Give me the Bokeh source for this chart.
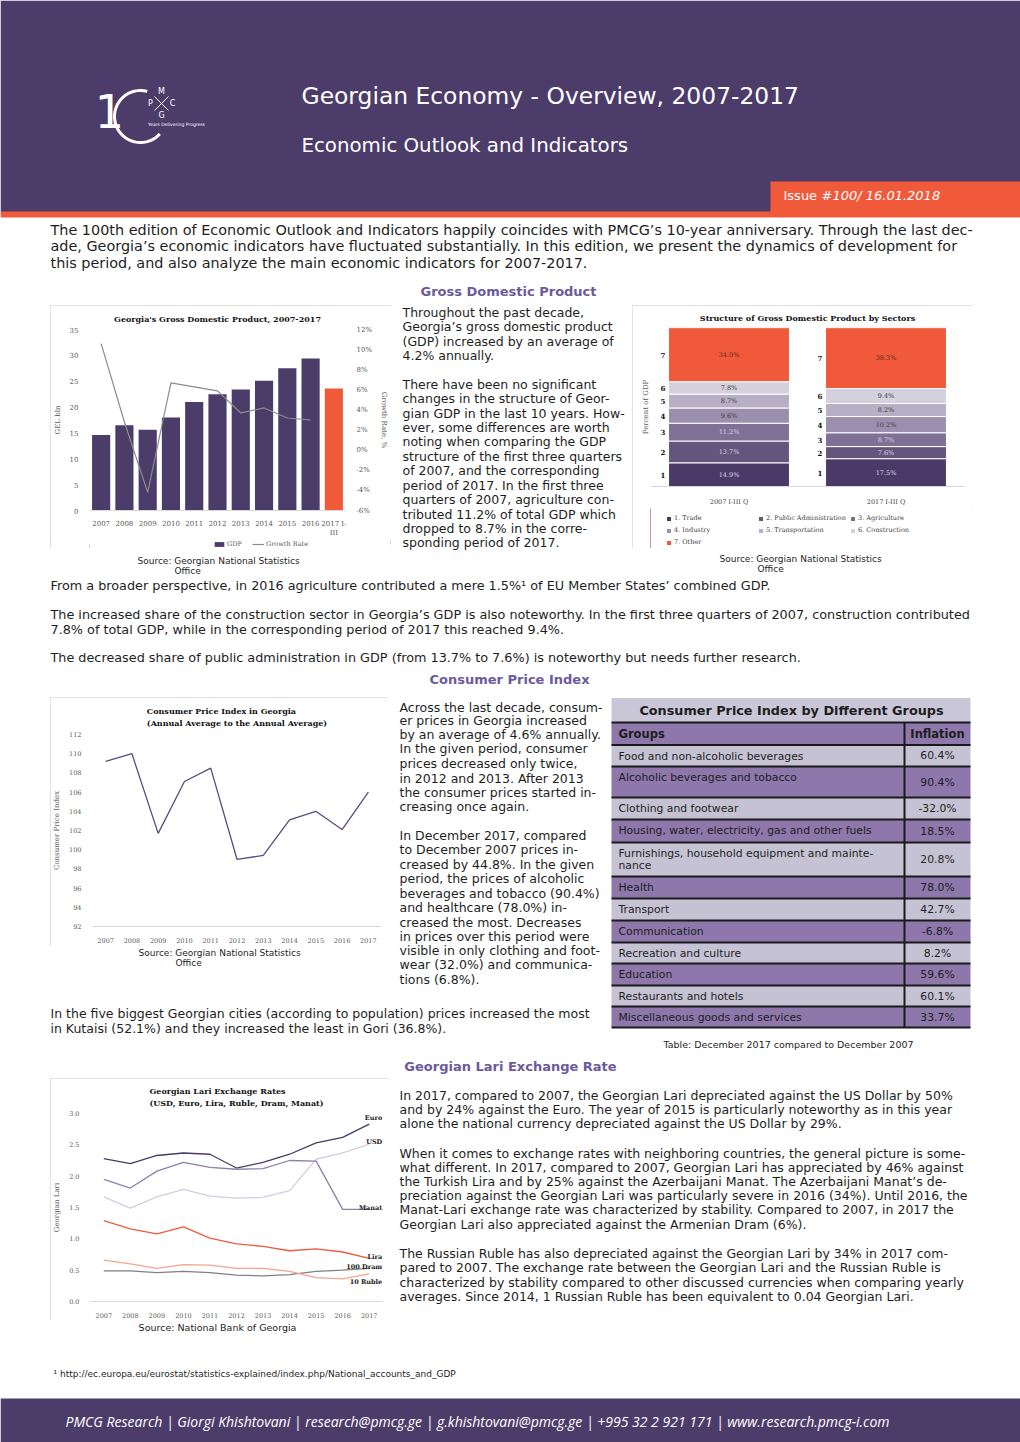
import numpy as np
from bokeh.plotting import figure
from bokeh.layouts import row, column
from bokeh.models import (Range1d, FactorRange, LinearAxis, FixedTicker, PrintfTickFormatter,
                          Legend, LegendItem, Title, ColumnDataSource)
from bokeh.core.properties import value
from bokeh.embed import file_html
from bokeh.resources import INLINE

# ---------------- data ----------------
gdp_periods = ["2007", "2008", "2009", "2010", "2011", "2012", "2013", "2014", "2015", "2016", "2017 I-\nIII"]
gdp_bln = [14.6, 16.5, 15.6, 18.0, 21.0, 22.5, 23.4, 25.1, 27.5, 29.4, 23.6]
gdp_growth_pct = [10.6, 2.8, -4.2, 6.7, 6.3, 5.9, 3.7, 4.2, 3.2, 3.0]
gdp_legend = ["GDP", "Growth Rate"]

struct_periods = ["2007 I-III Q", "2017 I-III Q"]
sectors = ["1. Trade", "2. Public Administration", "3. Agriculture", "4. Industry",
           "5. Transportation", "6. Construction", "7. Other"]
share_2007 = [14.9, 13.7, 11.2, 9.6, 8.7, 7.8, 34.0]
share_2017 = [17.5, 7.6, 8.7, 10.2, 8.2, 9.4, 38.3]

cpi_years = ["2007", "2008", "2009", "2010", "2011", "2012", "2013", "2014", "2015", "2016", "2017"]
cpi_index = [109.2, 110.0, 101.7, 107.1, 108.5, 99.0, 99.4, 103.1, 104.0, 102.1, 106.0]

cpi_groups = ["Food and non-alcoholic beverages", "Alcoholic beverages and tobacco",
              "Clothing and footwear", "Housing, water, electricity, gas and other fuels",
              "Furnishings, household equipment and mainte-\nnance", "Health", "Transport",
              "Communication", "Recreation and culture", "Education", "Restaurants and hotels",
              "Miscellaneous goods and services"]
cpi_inflation = ["60.4%", "90.4%", "-32.0%", "18.5%", "20.8%", "78.0%", "42.7%", "-6.8%",
                 "8.2%", "59.6%", "60.1%", "33.7%"]

fx_years = ["2007", "2008", "2009", "2010", "2011", "2012", "2013", "2014", "2015", "2016", "2017"]
fx_euro = [2.28, 2.20, 2.33, 2.37, 2.35, 2.13, 2.22, 2.35, 2.53, 2.62, 2.83]
fx_usd = [1.67, 1.49, 1.67, 1.79, 1.68, 1.65, 1.66, 1.77, 2.27, 2.37, 2.51]
fx_manat = [1.95, 1.81, 2.08, 2.22, 2.14, 2.11, 2.12, 2.25, 2.24, 1.47, 1.47]
fx_lira = [1.29, 1.16, 1.08, 1.19, 1.01, 0.92, 0.88, 0.81, 0.84, 0.79, 0.69]
fx_dram100 = [0.49, 0.49, 0.46, 0.48, 0.46, 0.42, 0.41, 0.43, 0.48, 0.50, 0.53]
fx_ruble10 = [0.66, 0.60, 0.53, 0.59, 0.58, 0.53, 0.53, 0.48, 0.38, 0.36, 0.44]

# ---------------- styles ----------------
PURPLE = "#4C3C69"
ORANGE = "#F05A3B"
HEAD = "#6C5A9C"
TXT = "#1E1E1E"
SANS = "DejaVu Sans"
SERIF = "DejaVu Serif"
BOX = "#D9D9D9"
OUTLINE = {"outline": "1px solid " + BOX, "outline-offset": "-1px"}

# ---------------- page content (recorded, then dispatched to canvases) ----------------
text_ops, quad_ops, line_ops = [], [], []


def txt(xs, ys, texts, size="12.5px", color=TXT, font=SANS, align="left", style="normal"):
    key = (size, color, font, align, style)
    for x, y, t in zip(xs, ys, texts):
        text_ops.append((x, y, t, key))


def block(x, y_list, lines, **kw):
    pairs = [(y, t) for y, t in zip(y_list, lines) if t]
    txt([x] * len(pairs), [p[0] for p in pairs], [p[1] for p in pairs], **kw)


def quad(l, r, t, b, **style):
    quad_ops.append((l, r, t, b, style))


def pline(xs, ys, **style):
    line_ops.append((xs, ys, style))


# header
quad(0, 1020, 0, 212, fill_color=PURPLE, line_color=None)
quad(0, 1020, 211, 217, fill_color=ORANGE, line_color=None)
quad(770, 1020, 181, 212, fill_color=ORANGE, line_color=None)
txt([783], [195], ["Issue"], size="13px", color="white")
txt([821], [195], ["#100/ 16.01.2018"], size="13px", color="white", style="italic")
txt([301], [95], ["Georgian Economy - Overview, 2007-2017"], size="23.4px", color="white")
txt([301], [145], ["Economic Outlook and Indicators"], size="19.8px", color="white")

# logo (decorative)
txt([109], [110], ["1"], size="46px", color="white", align="center")
th = np.radians(np.linspace(75, 318, 60))
pline(list(140 + 26 * np.cos(th)), list(116 - 26 * np.sin(th)), line_color="white", line_width=3)
pline([154, 168], [96, 110], line_color="white", line_width=1)
pline([168, 154], [96, 110], line_color="white", line_width=1)
txt([161, 150, 172, 161], [91, 103, 103, 115], ["M", "P", "C", "G"], size="8px", color="white", align="center")
txt([176], [124], ["Years Delivering Progress"], size="4.5px", color="white", align="center")

# intro
block(50, [229, 245, 262], [
    "The 100th edition of Economic Outlook and Indicators happily coincides with PMCG\u2019s 10-year anniversary. Through the last dec-",
    "ade, Georgia\u2019s economic indicators have fluctuated substantially. In this edition, we present the dynamics of development for",
    "this period, and also analyze the main economic indicators for 2007-2017."], size="14.4px")

# section headings
txt([508, 509, 510], [291, 679, 1066],
    ["Gross Domestic Product", "Consumer Price Index", "Georgian Lari Exchange Rate"],
    size="13px", color=HEAD, align="center", style="bold")

# GDP text
block(402, [312, 326, 341, 355, 0, 384, 398, 413, 427, 441, 456, 470, 485, 499, 514, 528, 542], [
    "Throughout the past decade,",
    "Georgia\u2019s gross domestic product",
    "(GDP) increased by an average of",
    "4.2% annually.",
    "",
    "There have been no significant",
    "changes in the structure of Geor-",
    "gian GDP in the last 10 years. How-",
    "ever, some differences are worth",
    "noting when comparing the GDP",
    "structure of the first three quarters",
    "of 2007, and the corresponding",
    "period of 2017. In the first three",
    "quarters of 2007, agriculture con-",
    "tributed 11.2% of total GDP which",
    "dropped to 8.7% in the corre-",
    "sponding period of 2017."])

# sources
txt([137, 174, 719, 757, 138, 175], [560, 570, 558, 568, 952, 962],
    ["Source: Georgian National Statistics", "Office", "Source: Georgian National Statistics", "Office",
     "Source: Georgian National Statistics", "Office"], size="9px")
txt([217], [1327], ["Source: National Bank of Georgia"], size="9.5px", align="center")
txt([788], [1044], ["Table: December 2017 compared to December 2007"], size="9.5px", align="center")

# middle text
block(50, [585, 614, 629, 657], [
    "From a broader perspective, in 2016 agriculture contributed a mere 1.5%\u00b9 of EU Member States\u2019 combined GDP.",
    "The increased share of the construction sector in Georgia\u2019s GDP is also noteworthy. In the first three quarters of 2007, construction contributed",
    "7.8% of total GDP, while in the corresponding period of 2017 this reached 9.4%.",
    "The decreased share of public administration in GDP (from 13.7% to 7.6%) is noteworthy but needs further research."],
    size="12.8px")

# CPI text
block(399, [707, 720, 734, 748, 763, 778, 792, 806, 0, 835, 849, 864, 878, 893, 907, 922, 936, 950, 964, 979], [
    "Across the last decade, consum-",
    "er prices in Georgia increased",
    "by an average of 4.6% annually.",
    "In the given period, consumer",
    "prices decreased only twice,",
    "in 2012 and 2013. After 2013",
    "the consumer prices started in-",
    "creasing once again.",
    "",
    "In December 2017, compared",
    "to December 2007 prices in-",
    "creased by 44.8%. In the given",
    "period, the prices of alcoholic",
    "beverages and tobacco (90.4%)",
    "and healthcare (78.0%) in-",
    "creased the most. Decreases",
    "in prices over this period were",
    "visible in only clothing and foot-",
    "wear (32.0%) and communica-",
    "tions (6.8%)."])

block(50, [1013, 1028], [
    "In the five biggest Georgian cities (according to population) prices increased the most",
    "in Kutaisi (52.1%) and they increased the least in Gori (36.8%)."])

# exchange text
block(399, [1095, 1109, 1123, 0, 1153, 1167, 1181, 1195, 1209, 1224, 0, 1253, 1267, 1282, 1296], [
    "In 2017, compared to 2007, the Georgian Lari depreciated against the US Dollar by 50%",
    "and by 24% against the Euro. The year of 2015 is particularly noteworthy as in this year",
    "alone the national currency depreciated against the US Dollar by 29%.",
    "",
    "When it comes to exchange rates with neighboring countries, the general picture is some-",
    "what different. In 2017, compared to 2007, Georgian Lari has appreciated by 46% against",
    "the Turkish Lira and by 25% against the Azerbaijani Manat. The Azerbaijani Manat\u2019s de-",
    "preciation against the Georgian Lari was particularly severe in 2016 (34%). Until 2016, the",
    "Manat-Lari exchange rate was characterized by stability. Compared to 2007, in 2017 the",
    "Georgian Lari also appreciated against the Armenian Dram (6%).",
    "",
    "The Russian Ruble has also depreciated against the Georgian Lari by 34% in 2017 com-",
    "pared to 2007. The exchange rate between the Georgian Lari and the Russian Ruble is",
    "characterized by stability compared to other discussed currencies when comparing yearly",
    "averages. Since 2014, 1 Russian Ruble has been equivalent to 0.04 Georgian Lari."])

# footnote and footer
txt([53], [1373], ["\u00b9 http://ec.europa.eu/eurostat/statistics-explained/index.php/National_accounts_and_GDP"], size="9px")
quad(0, 1020, 1398, 1442, fill_color=PURPLE, line_color=None)
txt([477], [1421], ["PMCG Research | Giorgi Khishtovani | research@pmcg.ge | g.khishtovani@pmcg.ge | +995 32 2 921 171 | www.research.pmcg-i.com"],
    size="14px", color="white", font="Open Sans", align="center", style="italic")

# CPI table
tbl_l, tbl_div, tbl_r = 611, 904, 970
tbl_top, tbl_head_top, tbl_head_bot = 697.5, 722, 744.5
tbl_row_h = [21.5, 31, 22, 23, 34, 22, 22, 22, 21, 22, 21, 21]
LIGHT, DARKROW = "#C5C3D3", "#8D77AB"
row_bot = tbl_head_bot + np.cumsum(tbl_row_h)
row_top = row_bot - np.array(tbl_row_h)
quad(tbl_l, tbl_r, tbl_top, tbl_head_top, fill_color="#C9C7D7", line_color=None)
quad(tbl_l, tbl_r, tbl_head_top, tbl_head_bot, fill_color=DARKROW, line_color=None)
for i, (t, b) in enumerate(zip(row_top, row_bot)):
    quad(tbl_l, tbl_r, t, b, fill_color=LIGHT if i % 2 == 0 else DARKROW, line_color=None)
for bnd in [tbl_head_top, tbl_head_bot] + list(row_bot):
    pline([tbl_l, tbl_r], [bnd, bnd], line_color="#1A1A1A", line_width=2)
pline([tbl_div, tbl_div], [tbl_head_top, row_bot[-1]], line_color="#1A1A1A", line_width=2)
txt([791], [710], ["Consumer Price Index by Different Groups"], size="12.8px", align="center", style="bold")
txt([618], [733.5], ["Groups"], size="11.5px", style="bold")
txt([937], [733.5], ["Inflation"], size="11.5px", style="bold", align="center")
gx, gy, gt = [], [], []
for top, grp in zip(row_top, cpi_groups):
    for k, line in enumerate(grp.split("\n")):
        gx.append(618); gy.append(top + 11 + 12 * k); gt.append(line)
txt(gx, gy, gt, size="10.8px")
txt([937] * len(cpi_inflation), list((row_top + row_bot) / 2), cpi_inflation, size="10.8px", align="center")

# ---------------- canvases (text areas) ----------------
canvases = []


def canvas(x0, x1, y0, y1):
    c = figure(width=int(x1 - x0), height=int(y1 - y0), x_range=Range1d(x0, x1), y_range=Range1d(y1, y0),
               output_backend="svg", toolbar_location=None, x_axis_type=None, y_axis_type=None,
               min_border_left=0, min_border_right=0, min_border_top=0, min_border_bottom=0, title=None)
    c.outline_line_color = None
    c.background_fill_color = "white"
    c.border_fill_color = "white"
    canvases.append((c, x0, x1, y0, y1))
    return c


# ---------------- charts ----------------
def style_axis(ax, size="7px"):
    ax.major_tick_line_color = None
    ax.minor_tick_line_color = None
    ax.axis_line_color = None
    ax.major_label_text_font = SERIF
    ax.major_label_text_font_size = size
    ax.major_label_text_color = "#595959"
    ax.axis_label_text_font = SERIF
    ax.axis_label_text_font_size = "7px"
    ax.axis_label_text_font_style = "normal"
    ax.axis_label_text_color = "#595959"
    ax.major_label_standoff = 5


def chart_fig(bounds, frame, x_range, y_range, outline=True):
    x0, x1, y0, y1 = bounds
    fl, fr, ft, fb = frame
    kw = dict(styles=OUTLINE) if outline else {}
    p = figure(width=int(x1 - x0), height=int(y1 - y0), x_range=x_range, y_range=y_range, title=None,
               output_backend="svg", toolbar_location=None,
               min_border_left=int(fl - x0), min_border_right=int(x1 - fr),
               min_border_top=int(ft - y0), min_border_bottom=int(y1 - fb), **kw)
    p.outline_line_color = None
    p.xgrid.visible = False
    p.ygrid.visible = False
    for ax in p.axis:
        style_axis(ax)
    p.xaxis.axis_line_color = BOX
    return p


def legend_fig(width, height, left, right):
    lf = figure(width=width, height=height, x_range=Range1d(0, 1), y_range=Range1d(0, 1),
                output_backend="svg", toolbar_location=None, x_axis_type=None, y_axis_type=None,
                min_border_left=left, min_border_right=right, min_border_top=0, min_border_bottom=0,
                title=None)
    lf.outline_line_color = None
    return lf


def chart_title(p, text, standoff=6, line_height=1.2):
    p.add_layout(Title(text=text, align="center", text_font=SERIF, text_font_size="8px",
                       text_font_style="bold", text_color="#111111", standoff=standoff,
                       text_line_height=line_height), "above")


LEG_STYLE = dict(label_text_font=SERIF, label_text_font_size="6.5px", padding=0, margin=0,
                 border_line_color=None, background_fill_alpha=0, label_height=8)
OFF = [-10.0]  # legend-key glyphs sit outside the key panel's range, only their swatches show

# GDP chart
f1 = chart_fig((50, 391, 305, 540), (80, 352, 329, 510), FactorRange(factors=gdp_periods), Range1d(0, 35),
               outline=False)
f1.xaxis.major_label_standoff = 3
f1.yaxis.ticker = FixedTicker(ticks=list(range(0, 36, 5)))
f1.yaxis.axis_label = "GEL bln"
bar_colors = [PURPLE] * (len(gdp_bln) - 1) + [ORANGE]
bars = f1.vbar(x=gdp_periods, top=gdp_bln, width=0.78, fill_color=bar_colors, line_color=None)
f1.extra_y_ranges = {"growth": Range1d(-6, 12)}
gline = f1.line(x=gdp_periods[:len(gdp_growth_pct)], y=gdp_growth_pct, y_range_name="growth",
                line_color="#8C8C8C", line_width=1.2)
ax_r = LinearAxis(y_range_name="growth", ticker=FixedTicker(ticks=list(range(-6, 13, 2))),
                  formatter=PrintfTickFormatter(format="%d%%"), axis_label="Growth Rate, %")
style_axis(ax_r)
f1.add_layout(ax_r, "right")
chart_title(f1, "Georgia's Gross Domestic Product, 2007-2017", standoff=12)

lf1 = legend_fig(341, 8, 30, 39)
k_bar = lf1.vbar(x=OFF, top=[1], width=0.5, fill_color=PURPLE, line_color=None)
k_line = lf1.line(x=OFF + [-9.0], y=[0.5, 0.5], line_color="#8C8C8C", line_width=1.2)
lf1.add_layout(Legend(items=[LegendItem(label=gdp_legend[0], renderers=[k_bar]),
                             LegendItem(label=gdp_legend[1], renderers=[k_line])],
                      orientation="horizontal", location=(124, 0), glyph_width=12, glyph_height=6,
                      spacing=5, label_standoff=2, label_text_color="#595959", **LEG_STYLE))

# Structure chart
SECTOR_COLORS = ["#4B3A68", "#64557D", "#7F7196", "#9B8FAE", "#B7AFC5", "#D5D0DD", ORANGE]
f2 = chart_fig((632, 973, 305, 508), (650, 964, 327, 494), FactorRange(factors=struct_periods), Range1d(0, 100),
               outline=False)
f2.yaxis.visible = False
f2.add_layout(Title(text="Percent of GDP", align="center", text_font=SERIF, text_font_size="7px",
                    text_font_style="normal", text_color="#595959", standoff=2), "left")
f2.xaxis.major_label_text_font_size = "6.5px"
f2.xaxis.major_label_text_color = "#404040"
keys = ["s%d" % i for i in range(len(sectors))]
src = ColumnDataSource(dict(period=struct_periods,
                            **{k: [a, b] for k, a, b in zip(keys, share_2007, share_2017)}))
stack = f2.vbar_stack(keys, x="period", width=0.77, fill_color=SECTOR_COLORS, line_color="white",
                      line_width=1, source=src)
lx, ly, lt, lc, nx, ny, nt = [], [], [], [], [], [], []
for per, vals in zip(struct_periods, [share_2007, share_2017]):
    v = np.array(vals)
    mids = np.cumsum(v) - v / 2
    for i, (m, val) in enumerate(zip(mids, v)):
        lx.append(per); ly.append(float(m)); lt.append("%.1f%%" % val)
        lc.append("#DCD7E6" if i < 3 else ("#5A2A1E" if i == 6 else "#3A3A3A"))
        nx.append(per); ny.append(float(m)); nt.append(sectors[i].split(".")[0])
f2.text(x=lx, y=ly, text=lt, text_color=lc, text_font=value(SERIF), text_font_size="6.5px",
        text_align="center", text_baseline="middle")
f2.text(x=nx, y=ny, text=nt, x_offset=-66, text_color="#111111", text_font=value(SERIF),
        text_font_size="7px", text_font_style="bold", text_align="center", text_baseline="middle")
chart_title(f2, "Structure of Gross Domestic Product by Sectors", standoff=10)

lf2 = legend_fig(341, 40, 18, 9)
keys_r = [lf2.vbar(x=OFF, top=[1], width=0.5, fill_color=c, line_color=None) for c in SECTOR_COLORS]
lf2.add_layout(Legend(items=[LegendItem(label=s, renderers=[r]) for s, r in zip(sectors, keys_r)],
                      orientation="horizontal", ncols=3, location=(16, 2), glyph_width=5, glyph_height=5,
                      spacing=4, label_standoff=3, label_width=80, label_text_color="#404040", **LEG_STYLE))

# CPI chart
f3 = chart_fig((50, 388, 697, 946), (85, 381, 733, 926), FactorRange(factors=cpi_years), Range1d(92, 112))
f3.yaxis.ticker = FixedTicker(ticks=list(range(92, 113, 2)))
f3.yaxis.axis_label = "Consumer Price Index"
f3.xaxis.major_label_text_font_size = "6.5px"
f3.yaxis.major_label_text_font_size = "6.5px"
f3.line(x=cpi_years, y=cpi_index, line_color="#5B4A85", line_width=1.3)
chart_title(f3, "Consumer Price Index in Georgia\n(Annual Average to the Annual Average)", standoff=13)

# Exchange rate chart
f4 = chart_fig((50, 389, 1078, 1320), (81, 382, 1113, 1304), FactorRange(factors=fx_years), Range1d(0, 3))
f4.yaxis.ticker = FixedTicker(ticks=[0, 0.5, 1.0, 1.5, 2.0, 2.5, 3.0])
f4.yaxis.formatter = PrintfTickFormatter(format="%.1f")
f4.yaxis.axis_label = "Georgian Lari"
f4.xaxis.major_label_text_font_size = "6.5px"
f4.yaxis.major_label_text_font_size = "6.5px"
fx_series = [("Euro", fx_euro, "#4B3A68", -6), ("USD", fx_usd, "#D3CEDF", -2),
             ("Manat", fx_manat, "#8E80A8", -1), ("Lira", fx_lira, ORANGE, -1),
             ("100 Dram", fx_dram100, "#808080", -1), ("10 Ruble", fx_ruble10, "#F4A48F", 8)]
for name, vals, col, yoff in fx_series:
    f4.line(x=fx_years, y=vals, line_color=col, line_width=1.3)
    f4.text(x=[fx_years[-1]], y=[vals[-1]], text=[name], x_offset=13, y_offset=yoff,
            text_color="#1A1A1A", text_font=value(SERIF), text_font_size="6.5px",
            text_font_style="bold", text_align="right", text_baseline="middle")
chart_title(f4, "Georgian Lari Exchange Rates\n(USD, Euro, Lira, Ruble, Dram, Manat)", standoff=11)

# ---------------- page layout (strips) ----------------
rowA = canvas(0, 1020, 0, 305)
rowB = row(column(row(canvas(0, 50, 305, 548), column(f1, lf1, styles=OUTLINE)), canvas(0, 391, 548, 550)),
           canvas(391, 632, 305, 550),
           column(row(column(f2, lf2, styles=OUTLINE), canvas(973, 1020, 305, 548)), canvas(632, 1020, 548, 550)))
rowC = canvas(0, 1020, 550, 697)
left_d = column(
    row(column(row(canvas(0, 50, 697, 946), f3), canvas(0, 388, 946, 1005)),
        canvas(388, 610, 697, 1005)),
    canvas(0, 610, 1005, 1036))
rowD = row(left_d, canvas(610, 1020, 697, 1036))
rowE = canvas(0, 1020, 1036, 1078)
rowF = row(column(row(canvas(0, 50, 1078, 1320), f4), canvas(0, 389, 1320, 1334)),
           canvas(389, 1020, 1078, 1334))
rowG = canvas(0, 1020, 1334, 1442)


# dispatch page content to canvases: shapes first, texts on top
def find_canvas(x, y):
    for i, (c, x0, x1, y0, y1) in enumerate(canvases):
        if x0 <= x < x1 and y0 <= y < y1:
            return i
    return None


for c, x0, x1, y0, y1 in canvases:
    for l, r, t, b, st in quad_ops:
        if l < x1 and r > x0 and min(t, b) < y1 and max(t, b) > y0:
            c.quad(left=[l], right=[r], top=[t], bottom=[b], **st)
    for xs, ys, st in line_ops:
        if min(xs) <= x1 and max(xs) >= x0 and min(ys) <= y1 and max(ys) >= y0:
            c.line(x=xs, y=ys, **st)

groups = {}
for x, y, t, key in text_ops:
    ci = find_canvas(x, y)
    if ci is None:
        continue
    g = groups.setdefault((ci, key), ([], [], []))
    g[0].append(x); g[1].append(y); g[2].append(t)
for (ci, key), (xs, ys, ts) in groups.items():
    size, color, font, align, style = key
    canvases[ci][0].text(x=xs, y=ys, text=ts, text_font=value(font), text_font_size=size,
                         text_color=color, text_align=align, text_baseline="middle",
                         text_font_style=style)

layout = column(rowA, rowB, rowC, rowD, rowE, rowF, rowG)

open("out.html", "w").write(file_html(layout, INLINE))
